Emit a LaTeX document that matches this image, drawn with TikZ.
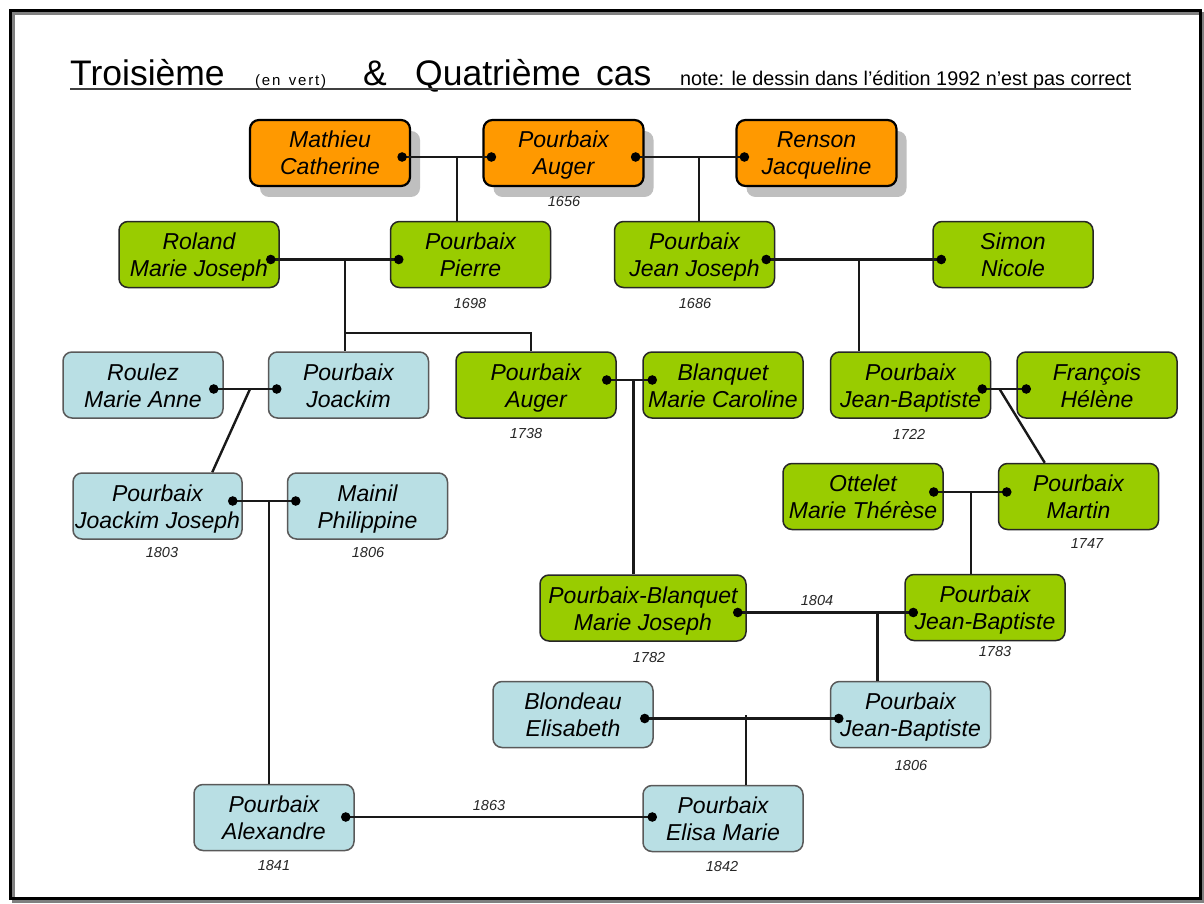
\documentclass[tikz,border=0pt]{standalone}
\usepackage{fontspec}
\setmainfont{Liberation Sans}
\newfontfamily\spacedfont[LetterSpace=12]{Liberation Sans}
\usetikzlibrary{calc,shadows}
\definecolor{orng}{HTML}{FF9900}
\definecolor{grn}{HTML}{99CC00}
\definecolor{blu}{HTML}{B9DFE4}
\newcommand{\pstrut}{\rule[-6pt]{0pt}{29pt}}
\newcommand{\twol}[2]{\pstrut#1\\\pstrut#2}
\tikzset{
  person/.style={rounded corners=9pt, minimum width=160pt, minimum height=66pt, inner sep=0pt, align=center,
    font={\itshape\fontsize{23}{27}\selectfont\lineskiplimit=-50pt}, line width=1.5pt},
  gen3/.style={person, fill=grn, draw=black!85},
  gen4/.style={person, fill=blu, draw=black!65},
  anc/.style={person, fill=orng, draw=black, line width=2.2pt,
    drop shadow={shadow xshift=10pt, shadow yshift=-11pt, fill=black!25, opacity=1}},
  conn/.style={line width=2.4pt, draw=black!90},
  yr/.style={font={\itshape\fontsize{14.5}{16}\selectfont}, text=black!85, inner sep=0pt},
  ttl/.style={anchor=base west, inner sep=0pt, font={\fontsize{35.5}{40}\selectfont}},
}
\begin{document}
\begin{tikzpicture}[x=1pt,y=-1pt]
\useasboundingbox (0,0) rectangle (1204,904);
% frame
\draw[line width=3pt, black!50] (13.7,13.7) rectangle (1203.2,901.8);
\draw[line width=3pt, black] (10.7,10.7) rectangle (1200.2,898.8);
% title
\node[ttl] (t1) at (70,86) {Troisième};
\node[anchor=base west, inner sep=0pt, font={\spacedfont\fontsize{15}{17}\selectfont}] (t2) at (255,86) {(en\, vert)};
\node[ttl] (t3) at (363,86) {\&};
\node[ttl] (t4) at (415,86) {Quatrième};
\node[ttl] (t5) at (596,86) {cas};
\node[anchor=base west, inner sep=0pt, font={\fontsize{19.8}{22}\selectfont}] (t6) at (680,86) {note: le dessin dans l’édition 1992 n’est pas correct};
\draw[line width=1.5pt, black!75] (70,89) -- (1131,89);
% persons
\node[anc] (math) at (330,153) {\twol{Mathieu}{Catherine}};
\node[anc] (augA) at (563.5,153) {\twol{Pourbaix}{Auger}};
\node[anc] (rens) at (816.5,153) {\twol{Renson}{Jacqueline}};
\node[gen3] (rola) at (199,254.5) {\twol{Roland}{Marie Joseph}};
\node[gen3] (pier) at (470.5,254.5) {\twol{Pourbaix}{Pierre}};
\node[gen3] (jjos) at (694.5,254.5) {\twol{Pourbaix}{Jean Joseph}};
\node[gen3] (simo) at (1013,254.5) {\twol{Simon}{Nicole}};
\node[gen4] (roul) at (143,385) {\twol{Roulez}{Marie Anne}};
\node[gen4] (joac) at (348.5,385) {\twol{Pourbaix}{Joackim}};
\node[gen3] (augB) at (536,385) {\twol{Pourbaix}{Auger}};
\node[gen3] (blan) at (723,385) {\twol{Blanquet}{Marie Caroline}};
\node[gen3] (jbA) at (910.5,385) {\twol{Pourbaix}{Jean-Baptiste}};
\node[gen3] (fran) at (1097,385) {\twol{François}{Hélène}};
\node[gen4, minimum width=169pt] (jjoa) at (157.5,506) {\twol{Pourbaix}{Joackim Joseph}};
\node[gen4] (mnil) at (367.5,506) {\twol{Mainil}{Philippine}};
\node[gen3] (otte) at (863,496.5) {\twol{Ottelet}{Marie Thérèse}};
\node[gen3] (mart) at (1078.5,496.5) {\twol{Pourbaix}{Martin}};
\node[gen3, minimum width=206pt] (pbmj) at (643,608) {\twol{Pourbaix-Blanquet}{Marie Joseph}};
\node[gen3] (jbB) at (985,607.5) {\twol{Pourbaix}{Jean-Baptiste}};
\node[gen4] (blon) at (573,714.5) {\twol{Blondeau}{Elisabeth}};
\node[gen4] (jbC) at (910.5,714.5) {\twol{Pourbaix}{Jean-Baptiste}};
\node[gen4] (alex) at (274,817.5) {\twol{Pourbaix}{Alexandre}};
\node[gen4] (elis) at (723,818.5) {\twol{Pourbaix}{Elisa Marie}};
% years
\node[yr] (y1656) at (564,202) {1656};
\node[yr] (y1698) at (470,304) {1698};
\node[yr] (y1686) at (695,304) {1686};
\node[yr] (y1738) at (526,434) {1738};
\node[yr] (y1722) at (909,434) {1722};
\node[yr] (y1803) at (162,553) {1803};
\node[yr] (y1806a) at (368,553) {1806};
\node[yr] (y1747) at (1087,544) {1747};
\node[yr] (y1804) at (817,601) {1804};
\node[yr] (y1782) at (649,658) {1782};
\node[yr] (y1783) at (995,652) {1783};
\node[yr] (y1806b) at (911,766) {1806};
\node[yr] (y1863) at (489,805) {1863};
\node[yr] (y1841) at (274,866) {1841};
\node[yr] (y1842) at (722,866) {1842};
% connection points
\coordinate (mathR) at ($(math.east)+(-9,4)$);
\coordinate (augAL) at ($(augA.west)+(9,4)$);
\coordinate (augAR) at ($(augA.east)+(-9,4)$);
\coordinate (rensL) at ($(rens.west)+(9,4)$);
\coordinate (rolaR) at ($(rola.east)+(-9,5)$);
\coordinate (pierL) at ($(pier.west)+(9,5)$);
\coordinate (jjosR) at ($(jjos.east)+(-9,5)$);
\coordinate (simoL) at ($(simo.west)+(9,5)$);
\coordinate (roulR) at ($(roul.east)+(-10,4)$);
\coordinate (joacL) at ($(joac.west)+(9,4)$);
\coordinate (augBR) at ($(augB.east)+(-10,-5)$);
\coordinate (blanL) at ($(blan.west)+(10,-5)$);
\coordinate (jbAR) at ($(jbA.east)+(-9,4)$);
\coordinate (franL) at ($(fran.west)+(10,4)$);
\coordinate (jjoaR) at ($(jjoa.east)+(-10,-5)$);
\coordinate (mnilL) at ($(mnil.west)+(9,-5)$);
\coordinate (otteR) at ($(otte.east)+(-10,-4.5)$);
\coordinate (martL) at ($(mart.west)+(9,-4.5)$);
\coordinate (pbmjR) at ($(pbmj.east)+(-9,4.5)$);
\coordinate (jbBL) at ($(jbB.west)+(9,5)$);
\coordinate (blonR) at ($(blon.east)+(-9,4)$);
\coordinate (jbCL) at ($(jbC.west)+(9,4)$);
\coordinate (alexR) at ($(alex.east)+(-9,-0.5)$);
\coordinate (elisL) at ($(elis.west)+(10,-1.5)$);
% junctions
\coordinate (j1) at (457,157);
\coordinate (j2) at (699,157);
\coordinate (j3) at (345,259.5);
\coordinate (k3) at (345,333);
\coordinate (k3b) at (531,333);
\coordinate (j4) at (859,259.5);
\coordinate (j5) at (250,389);
\coordinate (j5d) at ($(jjoa.north west)+(140,0)$);
\coordinate (j6) at (633.5,380);
\coordinate (j7) at (999.5,389);
\coordinate (j7d) at ($(mart.north west)+(47,0)$);
\coordinate (j8) at (269,501);
\coordinate (j9) at (971,492);
\coordinate (j10) at (877.5,612.5);
\coordinate (j11) at (746,715);
% connectors
\draw[conn] (mathR) -- (augAL);
\draw[conn] (augAR) -- (rensL);
\draw[conn] (j1) -- (j1 |- pier.north);
\draw[conn] (j2) -- (j2 |- jjos.north);
\draw[conn] (rolaR) -- (pierL);
\draw[conn] (j3) -- (j3 |- joac.north);
\draw[conn] (k3) -- (k3b) -- (k3b |- augB.north);
\draw[conn] (jjosR) -- (simoL);
\draw[conn] (j4) -- (j4 |- jbA.north);
\draw[conn] (roulR) -- (joacL);
\draw[conn] (j5) -- (j5d);
\draw[conn] (augBR) -- (blanL);
\draw[conn] (j6) -- (j6 |- pbmj.north);
\draw[conn] (jbAR) -- (franL);
\draw[conn] (j7) -- (j7d);
\draw[conn] (jjoaR) -- (mnilL);
\draw[conn] (j8) -- (j8 |- alex.north);
\draw[conn] (otteR) -- (martL);
\draw[conn] (j9) -- (j9 |- jbB.north);
\draw[conn] (pbmjR) -- (jbBL);
\draw[conn] (j10) -- (j10 |- jbC.north);
\draw[conn] (blonR) -- (jbCL);
\draw[conn] (j11) -- (j11 |- elis.north);
\draw[conn] (alexR) -- (elisL);
% dots
\foreach \p in {mathR,augAL,augAR,rensL,rolaR,pierL,jjosR,simoL,roulR,joacL,augBR,blanL,jbAR,franL,jjoaR,mnilL,otteR,martL,pbmjR,jbBL,blonR,jbCL,alexR,elisL}
  \fill (\p) circle[radius=4.8pt];
\end{tikzpicture}
\end{document}
